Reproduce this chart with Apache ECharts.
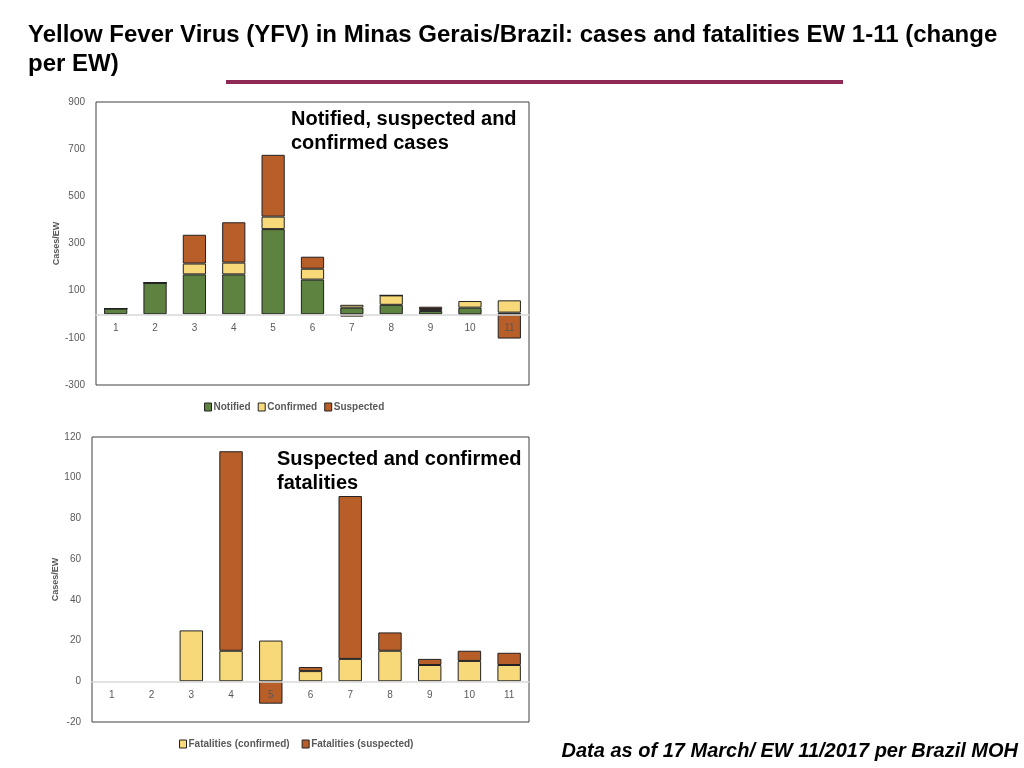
<!DOCTYPE html>
<html>
<head>
<meta charset="utf-8">
<script src="https://cdn.jsdelivr.net/npm/echarts@6/dist/echarts.min.js"></script>
<style>
    html, body {margin: 0; padding: 0; background: #fff;}
    #chart {width: 1024px; height: 768px;}
</style>
</head>
<body>
<div id="chart"></div>
<script type="text/javascript">
    // epidemiological weeks
    var weeks = ['1', '2', '3', '4', '5', '6', '7', '8', '9', '10', '11'];

    // cases per EW (change)
    var notified = [24, 133, 169, 169, 361, 147, 28, 40, 14, 28, 7];
    var confirmed = [0, 0, 46, 50, 53, 46, 12, 40, 8, 28, 52];
    var suspected = [0, 0, 122, 171, 262, 51, -10, 0, 10, -3, -103];

    // fatalities per EW (change), no bars for EW 1-2
    var fatalConfirmed = [null, null, 25, 15, 20, 5, 11, 15, 8, 10, 8];
    var fatalSuspected = [null, null, null, 98, -11, 2, 80, 9, 3, 5, 6];

    var GREEN = '#5e8240', YELLOW = '#f7d97a', BROWN = '#b75e29';
    var axisGray = '#595959';

    var chart = echarts.init(document.getElementById('chart'));

    function yAxisCfg(idx, min, max, interval) {
        return {
            type: 'value', gridIndex: idx, min: min, max: max, interval: interval,
            name: 'Cases/EW', nameLocation: 'middle', nameGap: idx === 0 ? 35 : 31, nameRotate: 90,
            nameTextStyle: {color: axisGray, fontSize: 9, fontWeight: 'bold', fontFamily: 'Liberation Sans'},
            axisLine: {show: false}, axisTick: {show: false}, splitLine: {show: false},
            axisLabel: {color: axisGray, fontSize: 10, fontFamily: 'Liberation Sans', margin: 11}
        };
    }

    // labels sit just under the zero line (shifted up from the grid bottom)
    function xAxisCfg(idx, margin) {
        return {
            type: 'category', gridIndex: idx, data: weeks, z: 5,
            axisLine: {onZero: true, lineStyle: {color: '#d9d9d9', width: 1.5}},
            axisTick: {show: false},
            axisLabel: {color: axisGray, fontSize: 10, fontFamily: 'Liberation Sans', margin: margin}
        };
    }

    function barSeries(name, data, color, xi, stack) {
        return {
            name: name, type: 'bar', stack: stack, xAxisIndex: xi, yAxisIndex: xi,
            data: data, barWidth: '59%',
            itemStyle: {color: color, borderColor: '#222', borderWidth: 1}
        };
    }

    chart.setOption({
        animation: false,
        textStyle: {fontFamily: 'Liberation Sans'},
        grid: [
            {left: 96, top: 102, width: 433, height: 283, show: true, borderColor: '#404040', borderWidth: 1, containLabel: false},
            {left: 92, top: 437, width: 437, height: 285, show: true, borderColor: '#404040', borderWidth: 1, containLabel: false}
        ],
        xAxis: [xAxisCfg(0, -62), xAxisCfg(1, -32)],
        yAxis: [yAxisCfg(0, -300, 900, 200), yAxisCfg(1, -20, 120, 20)],
        legend: [
            {
                data: ['Notified', 'Confirmed', 'Suspected'], left: 199, top: 397,
                icon: 'rect', itemWidth: 7, itemHeight: 8, itemGap: 7,
                itemStyle: {borderColor: '#222', borderWidth: 1},
                textStyle: {color: axisGray, fontSize: 10, fontWeight: 'bold', padding: [0, 0, 0, -3]}
            },
            {
                data: ['Fatalities (confirmed)', 'Fatalities (suspected)'], left: 174, top: 734,
                icon: 'rect', itemWidth: 7, itemHeight: 8, itemGap: 12,
                itemStyle: {borderColor: '#222', borderWidth: 1},
                textStyle: {color: axisGray, fontSize: 10, fontWeight: 'bold', padding: [0, 0, 0, -3]}
            }
        ],
        series: [
            barSeries('Notified', notified, GREEN, 0, 'cases'),
            barSeries('Confirmed', confirmed, YELLOW, 0, 'cases'),
            barSeries('Suspected', suspected, BROWN, 0, 'cases'),
            barSeries('Fatalities (confirmed)', fatalConfirmed, YELLOW, 1, 'fatal'),
            barSeries('Fatalities (suspected)', fatalSuspected, BROWN, 1, 'fatal')
        ],
        graphic: [
            {
                type: 'text', left: 28, top: 21,
                style: {
                    text: 'Yellow Fever Virus (YFV) in Minas Gerais/Brazil: cases and fatalities EW 1-11 (change\nper EW)',
                    fill: '#000', fontSize: 24, fontWeight: 'bold', lineHeight: 29,
                    fontFamily: 'Liberation Sans'
                }
            },
            {
                type: 'rect', shape: {x: 226, y: 80, width: 617, height: 4},
                style: {fill: '#8e2a55'}
            },
            {
                type: 'text', left: 291, top: 107, z: 10,
                style: {
                    text: 'Notified, suspected and\nconfirmed cases',
                    fill: '#000', fontSize: 20, fontWeight: 'bold', lineHeight: 24,
                    fontFamily: 'Liberation Sans'
                }
            },
            {
                type: 'text', left: 277, top: 447, z: 10,
                style: {
                    text: 'Suspected and confirmed\nfatalities',
                    fill: '#000', fontSize: 20, fontWeight: 'bold', lineHeight: 24,
                    fontFamily: 'Liberation Sans'
                }
            },
            {
                type: 'text', right: 6, top: 741,
                style: {
                    text: 'Data as of 17 March/ EW 11/2017 per Brazil MOH',
                    fill: '#000', fontSize: 20, fontWeight: 'bold', fontStyle: 'italic',
                    fontFamily: 'Liberation Sans'
                }
            }
        ]
    });
</script>
</body>
</html>
